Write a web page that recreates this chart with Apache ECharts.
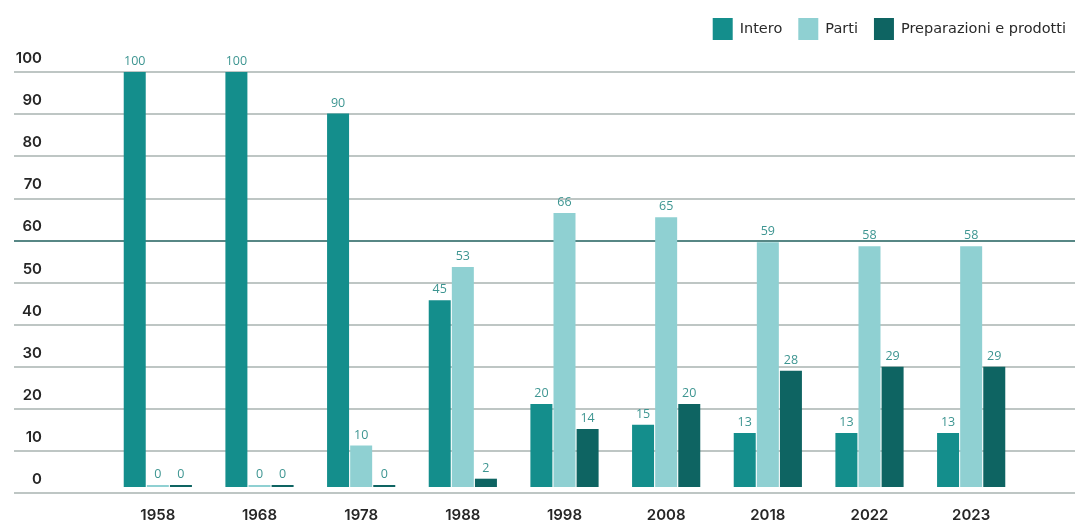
<!DOCTYPE html>
<html>
<head>
<meta charset="utf-8">
<script src="https://cdn.jsdelivr.net/npm/echarts@6/dist/echarts.min.js"></script>
<style>
  html, body { margin: 0; padding: 0; background: #fff; }
  #chart { width: 1081px; height: 523px; }
</style>
</head>
<body>
<div id="chart"></div>
<script>
// data
const years = ['1958', '1968', '1978', '1988', '1998', '2008', '2018', '2022', '2023']
const intero = [100, 100, 90, 45, 20, 15, 13, 13, 13]
const parti = [0, 0, 10, 53, 66, 65, 59, 58, 58]
const preparazioni = [0, 0, 0, 2, 14, 20, 28, 29, 29]
const seriesNames = ['Intero', 'Parti', 'Preparazioni e prodotti']

const font = 'Inter'
const grey = '#a9b3b1'
// 0..100 lines, the 60 line is dark
const lineColors = [grey, grey, grey, grey, grey, grey, '#1f5f5d', grey, grey, grey, grey]

function barSeries(name, data, color) {
  return {
    name,
    type: 'bar',
    xAxisIndex: 1,
    yAxisIndex: 1,
    data,
    barWidth: 22,
    barGap: '5%',
    barMinHeight: 2,
    itemStyle: { color },
    label: {
      show: true,
      position: 'top',
      distance: 4,
      color: '#3d9591',
      fontFamily: 'Open Sans',
      fontSize: 12.5
    }
  }
}

const chart = echarts.init(document.getElementById('chart'))
chart.setOption({
  animation: false,
  color: ['#148e8c', '#8fd0d2', '#0e6462'],
  legend: {
    data: seriesNames,
    right: 10,
    top: 13,
    itemWidth: 20,
    itemHeight: 22,
    itemGap: 16,
    itemStyle: { borderWidth: 0 },
    icon: 'rect',
    textStyle: { color: '#2a2a2a', fontFamily: 'DejaVu Sans', fontSize: 14.5, padding: [0, 0, 0, 2] }
  },
  grid: [
    { left: 14, right: 6, top: 72, bottom: 30 },
    { left: 107, right: 59, top: 72, bottom: 36 }
  ],
  xAxis: [
    { gridIndex: 0, type: 'value', show: false },
    {
      gridIndex: 1,
      type: 'category',
      data: years,
      axisLine: { show: false },
      axisTick: { show: false },
      axisLabel: { margin: 21, color: '#262626', fontFamily: font, fontSize: 15, fontWeight: 600 }
    }
  ],
  yAxis: [
    {
      gridIndex: 0,
      type: 'value',
      min: 0,
      max: 100,
      interval: 10,
      axisLine: { show: false },
      axisTick: { show: false },
      axisLabel: {
        inside: true,
        margin: 28,
        align: 'right',
        verticalAlign: 'bottom',
        padding: [0, 0, 6, 0],
        color: '#262626',
        fontFamily: font,
        fontSize: 15,
        fontWeight: 600
      },
      splitLine: { show: true, lineStyle: { color: lineColors, width: 1.5 } }
    },
    { gridIndex: 1, type: 'value', min: 0, max: 100, show: false }
  ],
  series: [
    barSeries(seriesNames[0], intero, '#148e8c'),
    barSeries(seriesNames[1], parti, '#8fd0d2'),
    barSeries(seriesNames[2], preparazioni, '#0e6462')
  ]
})
</script>
</body>
</html>
